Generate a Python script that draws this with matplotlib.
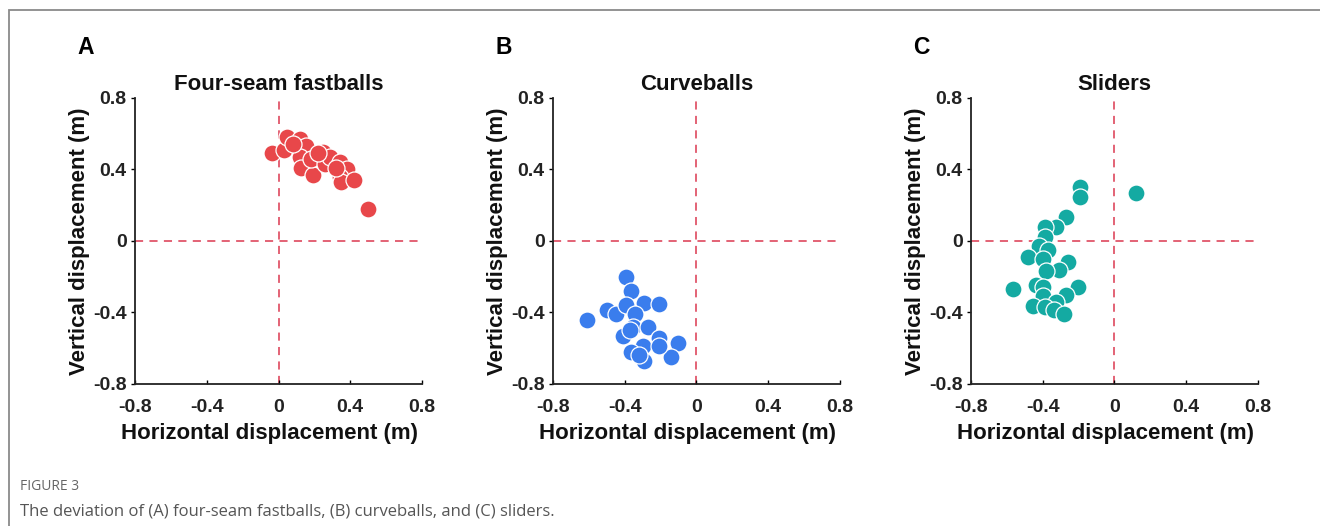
import matplotlib.pyplot as plt
from matplotlib.patches import Rectangle

plt.rcParams['font.family'] = ['Liberation Sans', 'DejaVu Sans']

# Panel A - four-seam fastballs (horizontal, vertical displacement in m)
fast_x = [-0.035, 0.03, 0.05, 0.12, 0.155, 0.117, 0.127, 0.19, 0.18, 0.25, 0.26,
          0.285, 0.34, 0.38, 0.34, 0.35, 0.42, 0.50, 0.22, 0.08, 0.32]
fast_y = [0.49, 0.51, 0.58, 0.57, 0.53, 0.47, 0.41, 0.37, 0.46, 0.50, 0.43,
          0.47, 0.44, 0.40, 0.36, 0.33, 0.34, 0.18, 0.49, 0.54, 0.41]

# Panel B - curveballs
curve_x = [-0.39, -0.365, -0.50, -0.61, -0.45, -0.39, -0.29, -0.21, -0.34, -0.355,
           -0.27, -0.41, -0.21, -0.10, -0.30, -0.365, -0.14, -0.29, -0.32, -0.21, -0.37]
curve_y = [-0.20, -0.28, -0.385, -0.44, -0.41, -0.36, -0.345, -0.355, -0.41, -0.48,
           -0.48, -0.53, -0.54, -0.57, -0.59, -0.62, -0.65, -0.67, -0.64, -0.59, -0.50]

# Panel C - sliders
slider_x = [-0.19, -0.19, 0.12, -0.27, -0.325, -0.39, -0.39, -0.42, -0.37, -0.48,
            -0.40, -0.26, -0.31, -0.38, -0.565, -0.44, -0.40, -0.205, -0.27, -0.40,
            -0.325, -0.455, -0.39, -0.335, -0.28]
slider_y = [0.30, 0.245, 0.27, 0.135, 0.08, 0.08, 0.025, -0.03, -0.05, -0.09,
            -0.10, -0.12, -0.165, -0.17, -0.27, -0.245, -0.255, -0.26, -0.30, -0.305,
            -0.34, -0.365, -0.37, -0.385, -0.41]

panels = [
    ("A", "Four-seam fastballs", fast_x, fast_y, "#e8474a", 0.1023),
    ("B", "Curveballs", curve_x, curve_y, "#3a7ded", 0.4189),
    ("C", "Sliders", slider_x, slider_y, "#14aaa2", 0.7356),
]
ticks = [-0.8, -0.4, 0, 0.4, 0.8]
tick_labels = ["-0.8", "-0.4", "0", "0.4", "0.8"]

fig = plt.figure(figsize=(13.2, 5.26), dpi=100)

for letter, title, xs, ys, color, left in panels:
    ax = fig.add_axes([left, 0.27, 0.2174, 0.5437])
    ax.plot([-0.8, 0.8], [0, 0], color="#e0566a", lw=1.3, ls=(0, (4.5, 3.5)), zorder=1)
    ax.plot([0, 0], [-0.8, 0.8], color="#e0566a", lw=1.3, ls=(0, (4.5, 3.5)), zorder=1)
    ax.scatter(xs, ys, s=150, color=color, edgecolor="white", linewidth=0.9, zorder=3)
    ax.set_xlim(-0.8, 0.8)
    ax.set_ylim(-0.8, 0.8)
    ax.set_xticks(ticks)
    ax.set_xticklabels(tick_labels)
    ax.set_yticks(ticks)
    ax.set_yticklabels(tick_labels)
    for s in ["top", "right"]:
        ax.spines[s].set_visible(False)
    for s in ["left", "bottom"]:
        ax.spines[s].set_linewidth(1.3)
        ax.spines[s].set_color("#222222")
    ax.tick_params(axis="y", direction="out", length=3, width=1, labelsize=14, pad=3)
    ax.tick_params(axis="x", direction="in", length=3, width=1, labelsize=14, pad=11)
    for lab in ax.get_xticklabels() + ax.get_yticklabels():
        lab.set_fontweight("bold")
        lab.set_color("#222222")
    ax.set_xlabel("Horizontal displacement (m)", fontsize=16, fontweight="bold",
                  labelpad=3, color="#111111")
    ax.xaxis.set_label_coords(0.47, -0.135)
    ax.xaxis.label.set_va("top")
    ax.set_ylabel("Vertical displacement (m)", fontsize=16, fontweight="bold",
                  labelpad=2, color="#111111")
    ax.set_title(title, fontsize=16, fontweight="bold", pad=6, color="#111111")
    ax.text(-0.2, 1.178, letter, transform=ax.transAxes, fontsize=16.5,
            fontweight="bold", ha="left", va="center")

# outer frame of the figure box
fig.patches.append(Rectangle((9 / 1320, -0.1), 1.2, 1.1 - 10 / 526,
                             transform=fig.transFigure, fill=False,
                             edgecolor="#8a8a8a", lw=1.3, clip_on=False))

fig.text(20 / 1320, 1 - 487 / 526, "FIGURE 3", fontsize=10, color="#666666",
         family=["Open Sans", "DejaVu Sans"], va="center")
fig.text(20 / 1320, 1 - 511 / 526,
         "The deviation of (A) four-seam fastballs, (B) curveballs, and (C) sliders.",
         fontsize=12, color="#555555", family=["Open Sans", "DejaVu Sans"], va="center")

fig.savefig("out.png", dpi=100)
